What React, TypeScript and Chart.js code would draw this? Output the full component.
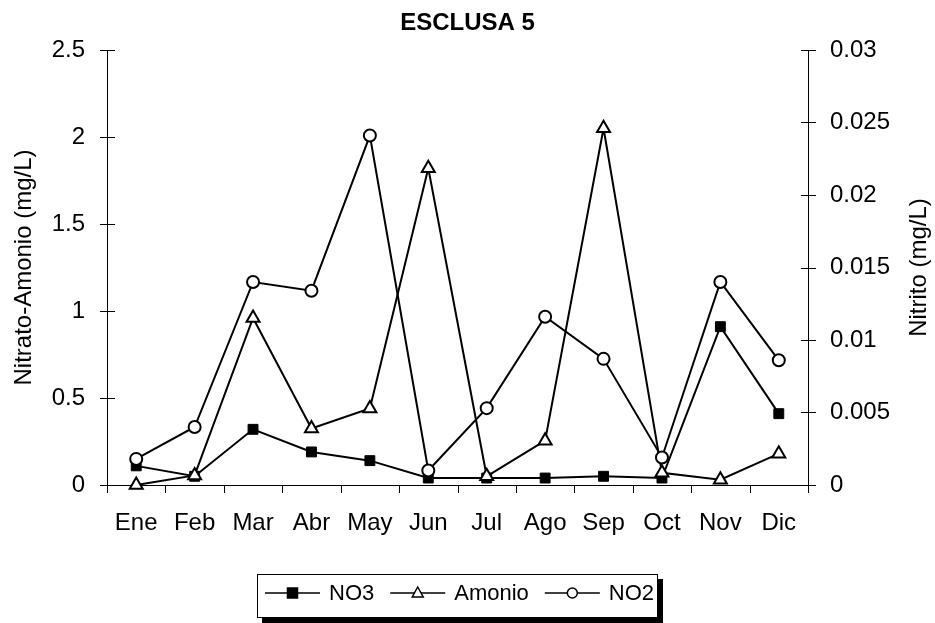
import React, { useEffect, useRef } from "react";
import { Chart, registerables } from "chart.js";

Chart.register(...registerables);

// Monthly values at Esclusa 5
const months = ["Ene", "Feb", "Mar", "Abr", "May", "Jun", "Jul", "Ago", "Sep", "Oct", "Nov", "Dic"];
const no3 = [0.11, 0.05, 0.32, 0.19, 0.14, 0.04, 0.04, 0.04, 0.05, 0.04, 0.91, 0.41];
const amonio = [0, 0.055, 0.96, 0.325, 0.44, 1.82, 0.05, 0.255, 2.05, 0.07, 0.03, 0.18];
const no2 = [0.0018, 0.004, 0.014, 0.0134, 0.0241, 0.001, 0.0053, 0.0116, 0.0087, 0.0019, 0.014, 0.0086];

const leftTicks = [0, 0.5, 1, 1.5, 2, 2.5];
const rightTicks = [0, 0.005, 0.01, 0.015, 0.02, 0.025, 0.03];

const FONT = "'Liberation Sans', Arial, sans-serif";
const W = 935;
const H = 623;

const fmt = (v: number) => String(+Number(v).toFixed(4));

// Tick marks, titles and the boxed legend drawn on top of the chart
const decorations = {
  id: "decorations",
  afterDraw(chart: any) {
    const { ctx, chartArea, scales } = chart;
    const x = scales.x;
    const yl = scales.y;
    const yr = scales.y1;
    ctx.save();
    ctx.strokeStyle = "#000";
    ctx.lineWidth = 1;

    // category boundary ticks under the x axis
    ctx.beginPath();
    for (let i = 0; i <= months.length; i++) {
      const px = i < months.length
        ? x.getPixelForTick(i) - (x.getPixelForTick(1) - x.getPixelForTick(0)) / 2
        : chartArea.right;
      const ax = Math.round(px) + 0.5;
      ctx.moveTo(ax, chartArea.bottom);
      ctx.lineTo(ax, chartArea.bottom + 8);
    }
    // crossing ticks on both value axes
    leftTicks.forEach((v) => {
      const py = Math.round(yl.getPixelForValue(v)) + 0.5;
      ctx.moveTo(chartArea.left - 7, py);
      ctx.lineTo(chartArea.left + 8, py);
    });
    rightTicks.forEach((v) => {
      const py = Math.round(yr.getPixelForValue(v)) + 0.5;
      ctx.moveTo(chartArea.right - 7, py);
      ctx.lineTo(chartArea.right + 8, py);
    });
    ctx.stroke();

    // title
    ctx.fillStyle = "#000";
    ctx.font = `bold 24px ${FONT}`;
    ctx.textAlign = "center";
    ctx.textBaseline = "middle";
    ctx.fillText("ESCLUSA 5", W / 2, 23);

    // axis titles, both read bottom to top
    ctx.font = `24px ${FONT}`;
    const cy = (chartArea.top + chartArea.bottom) / 2;
    [["Nitrato-Amonio (mg/L)", 24], ["Nitrito (mg/L)", 919]].forEach(([t, tx]) => {
      ctx.save();
      ctx.translate(tx as number, cy);
      ctx.rotate(-Math.PI / 2);
      ctx.fillText(t as string, 0, 0);
      ctx.restore();
    });

    // legend box with drop shadow
    const bx = 257, by = 574, bw = 400, bh = 43;
    ctx.fillStyle = "#000";
    ctx.fillRect(bx + 5, by + 5, bw + 1, bh + 1);
    ctx.fillStyle = "#fff";
    ctx.fillRect(bx, by, bw, bh);
    ctx.strokeRect(bx + 0.5, by + 0.5, bw, bh);

    ctx.font = `22px ${FONT}`;
    ctx.textAlign = "left";
    const ly = by + 19;
    let cx = bx + 8;
    const sample = 55;
    chart.data.datasets.forEach((ds: any, i: number) => {
      ctx.strokeStyle = "#000";
      ctx.lineWidth = 1.5;
      ctx.beginPath();
      ctx.moveTo(cx, ly);
      ctx.lineTo(cx + sample, ly);
      ctx.stroke();
      const mx = cx + sample / 2;
      const style = ds.pointStyle;
      ctx.lineWidth = 1.5;
      ctx.fillStyle = ds.pointBackgroundColor;
      ctx.beginPath();
      if (style === "rect") {
        ctx.rect(mx - 5, ly - 5, 10, 10);
      } else if (style === "triangle") {
        ctx.moveTo(mx, ly - 6);
        ctx.lineTo(mx + 5.5, ly + 4);
        ctx.lineTo(mx - 5.5, ly + 4);
        ctx.closePath();
      } else {
        ctx.arc(mx, ly, 5, 0, Math.PI * 2);
      }
      ctx.fill();
      ctx.stroke();
      cx += sample + 9;
      ctx.fillStyle = "#000";
      ctx.fillText(ds.label, cx, ly + 1);
      cx += ctx.measureText(ds.label).width + 16;
    });
    ctx.restore();
  },
};

export default function App() {
  const ref = useRef<HTMLCanvasElement | null>(null);

  useEffect(() => {
    if (!ref.current) return;
    const chart = new Chart(ref.current, {
      type: "line",
      data: {
        labels: months,
        datasets: [
          {
            label: "NO3",
            data: no3,
            yAxisID: "y",
            borderColor: "#000",
            borderWidth: 2,
            pointStyle: "rect",
            pointRadius: 7,
            pointBackgroundColor: "#000",
            pointBorderColor: "#000",
            pointBorderWidth: 1,
            order: 3,
            clip: false,
          },
          {
            label: "Amonio",
            data: amonio,
            yAxisID: "y",
            borderColor: "#000",
            borderWidth: 2,
            pointStyle: "triangle",
            pointRadius: 7.5,
            pointBackgroundColor: "#fff",
            pointBorderColor: "#000",
            pointBorderWidth: 2,
            order: 2,
            clip: false,
          },
          {
            label: "NO2",
            data: no2,
            yAxisID: "y1",
            borderColor: "#000",
            borderWidth: 2,
            pointStyle: "circle",
            pointRadius: 6,
            pointBackgroundColor: "#fff",
            pointBorderColor: "#000",
            pointBorderWidth: 2,
            order: 1,
            clip: false,
          },
        ],
      },
      options: {
        responsive: false,
        animation: false,
        events: [],
        layout: { padding: { top: 50, left: 0, right: 0, bottom: 0 } },
        plugins: { legend: { display: false }, title: { display: false }, tooltip: { enabled: false } },
        elements: { line: { tension: 0 } },
        scales: {
          x: {
            type: "category",
            offset: true,
            grid: { display: false, drawTicks: false },
            border: { display: true, color: "#000", width: 1 },
            ticks: { color: "#000", font: { family: FONT, size: 24 }, padding: 24, maxRotation: 0, autoSkip: false },
            afterFit: (s: any) => { s.height = 138; },
          },
          y: {
            position: "left",
            min: 0,
            max: 2.5,
            grid: { display: false, drawTicks: false },
            border: { display: true, color: "#000", width: 1 },
            ticks: { stepSize: 0.5, color: "#000", font: { family: FONT, size: 24 }, padding: 22, callback: (v: any) => fmt(v) },
            afterFit: (s: any) => { s.width = 107; },
          },
          y1: {
            position: "right",
            min: 0,
            max: 0.03,
            grid: { display: false, drawTicks: false },
            border: { display: true, color: "#000", width: 1 },
            ticks: { stepSize: 0.005, color: "#000", font: { family: FONT, size: 24 }, padding: 22, callback: (v: any) => fmt(v) },
            afterFit: (s: any) => { s.width = 127; },
          },
        },
      },
      plugins: [decorations],
    });
    return () => chart.destroy();
  }, []);

  return (
    <div style={{ position: "fixed", left: 0, top: 0, width: W, height: H, background: "#fff" }}>
      <canvas ref={ref} width={W} height={H} style={{ display: "block", width: W, height: H }} />
    </div>
  );
}
